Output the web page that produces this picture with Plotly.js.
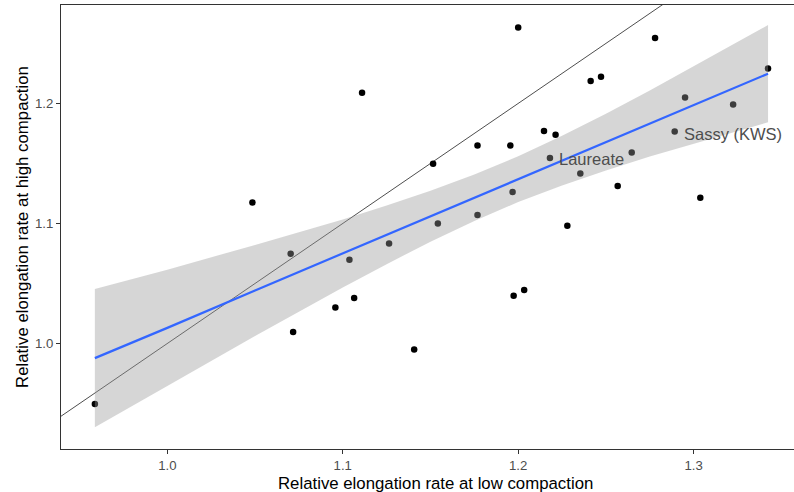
<!DOCTYPE html>
<html>
<head>
<meta charset="utf-8">
<script src="https://cdn.plot.ly/plotly-3.0.1.min.js"></script>
<style>html,body{margin:0;padding:0;background:#fff;overflow:hidden}#chart{width:794px;height:492px}</style>
</head>
<body>
<div id="chart"></div>
<script>
// Observed points: relative elongation rate at low (x) and high (y) compaction
var lowCompaction = [0.9587, 1.0485, 1.0703, 1.0717, 1.0958, 1.1038, 1.1065, 1.1110, 1.1264, 1.1407,
  1.1515, 1.1542, 1.1768, 1.1768, 1.1955, 1.1968, 1.1974, 1.2000, 1.2034, 1.2147,
  1.2181, 1.2213, 1.2280, 1.2354, 1.2413, 1.2472, 1.2567, 1.2647, 1.2780, 1.2892,
  1.2951, 1.3038, 1.3225, 1.3424];
var highCompaction = [0.9495, 1.1175, 1.0748, 1.0095, 1.0300, 1.0698, 1.0378, 1.2089, 1.0833, 0.9950,
  1.1498, 1.1000, 1.1650, 1.1070, 1.1650, 1.1262, 1.0398, 1.2633, 1.0445, 1.1770,
  1.1545, 1.1739, 1.0981, 1.1417, 1.2187, 1.2222, 1.1312, 1.1592, 1.2545, 1.1767,
  1.2050, 1.1214, 1.1992, 1.2292];

// Linear fit with confidence band
var fitX     = [0.9587, 1.000, 1.050, 1.075, 1.100, 1.125, 1.150, 1.175, 1.200, 1.225, 1.250, 1.275, 1.300, 1.3424];
var fitY     = [0.9878, 1.0130, 1.0442, 1.0596, 1.0750, 1.0905, 1.1060, 1.1214, 1.1369, 1.1523, 1.1678, 1.1832, 1.1987, 1.2248];
var fitUpper = [1.0453, 1.0615, 1.0821, 1.0926, 1.1034, 1.1149, 1.1272, 1.1407, 1.1559, 1.1730, 1.1915, 1.2107, 1.2307, 1.2653];
var fitLower = [0.9303, 0.9645, 1.0063, 1.0266, 1.0466, 1.0661, 1.0848, 1.1021, 1.1179, 1.1316, 1.1441, 1.1557, 1.1667, 1.1843];

// Identity line y = x
var identity = [0.90, 1.40];

// Labelled varieties
var labelNames = ["Laureate", "Sassy (KWS)"];
var labelX = [1.2234, 1.2947];
var labelY = [1.1540, 1.1748];

// Axis titles
var xTitle = 'Relative elongation rate at low compaction';
var yTitle = 'Relative elongation rate at high compaction';

var FONT = 'Liberation Sans, Arial, sans-serif';

var traces = [
  {x: identity, y: identity, mode: 'lines', type: 'scatter',
   line: {color: '#000000', width: 0.7}, hoverinfo: 'skip', showlegend: false},
  {x: lowCompaction, y: highCompaction, mode: 'markers', type: 'scatter',
   marker: {color: '#000000', size: 6.5}, showlegend: false},
  {x: fitX.concat(fitX.slice().reverse()), y: fitUpper.concat(fitLower.slice().reverse()),
   mode: 'lines', type: 'scatter', fill: 'toself', fillcolor: 'rgba(153,153,153,0.4)',
   line: {width: 0, color: 'rgba(0,0,0,0)'}, hoverinfo: 'skip', showlegend: false},
  {x: fitX, y: fitY, mode: 'lines', type: 'scatter',
   line: {color: '#3366FF', width: 2.2}, showlegend: false}
];

var annotations = labelNames.map(function(t, i){
  return {x: labelX[i], y: labelY[i], xref: 'x', yref: 'y', text: t, showarrow: false,
    xanchor: 'left', yanchor: 'middle', xshift: -2,
    font: {family: FONT, size: 16.5, color: '#4D4D4D'}};
});
annotations.push({x: 0.5115, y: 0, xref: 'paper', yref: 'paper', text: xTitle, showarrow: false,
  xanchor: 'center', yanchor: 'middle', yshift: -34,
  font: {family: FONT, size: 16.8, color: '#000000'}});

var layout = {
  width: 794, height: 492,
  margin: {l: 61, r: 0, t: 5, b: 43, pad: 0},
  paper_bgcolor: '#ffffff', plot_bgcolor: '#ffffff',
  font: {family: FONT, color: '#000000'},
  showlegend: false,
  xaxis: {
    range: [0.9394, 1.3572], tickvals: [1.0, 1.1, 1.2, 1.3], ticktext: ['1.0', '1.1', '1.2', '1.3'],
    showgrid: false, zeroline: false, showline: true, mirror: true, linecolor: '#333333', linewidth: 1.1,
    ticks: 'outside', ticklen: 4, tickwidth: 1.1, tickcolor: '#333333',
    tickfont: {size: 13.2, color: '#4D4D4D'}
  },
  yaxis: {
    range: [0.9121, 1.282], tickvals: [1.0, 1.1, 1.2], ticktext: ['1.0', '1.1', '1.2'],
    showgrid: false, zeroline: false, showline: true, linecolor: '#333333', linewidth: 1.1,
    ticks: 'outside', ticklen: 4, tickwidth: 1.1, tickcolor: '#333333',
    tickfont: {size: 13.2, color: '#4D4D4D'},
    title: {text: yTitle, font: {size: 16.8, color: '#000000'}, standoff: 2}
  },
  annotations: annotations
};

Plotly.newPlot('chart', traces, layout, {displayModeBar: false, staticPlot: true});
</script>
</body>
</html>
